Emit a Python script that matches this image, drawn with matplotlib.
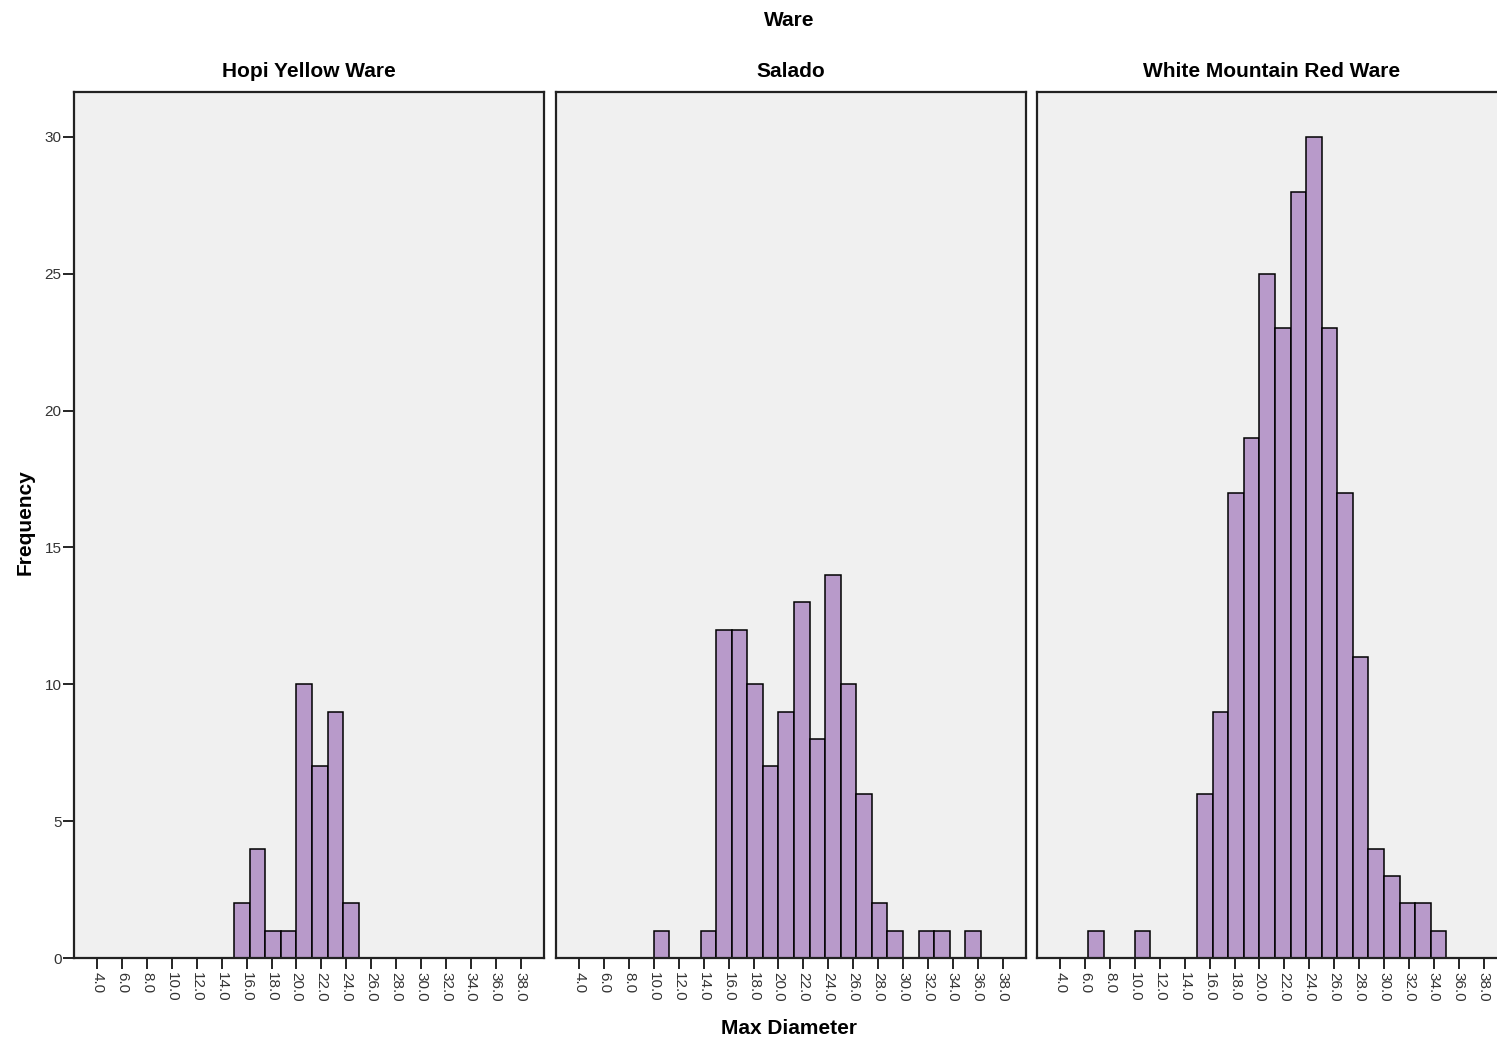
import matplotlib
matplotlib.use("Agg")
from matplotlib import pyplot as plt
import numpy as np

# histogram bins (SPSS style, width 1.25)
bin_left = [5.0, 6.25, 7.5, 8.75, 10.0, 11.25, 12.5, 13.75, 15.0, 16.25, 17.5, 18.75, 20.0,
            21.25, 22.5, 23.75, 25.0, 26.25, 27.5, 28.75, 30.0, 31.25, 32.5, 33.75, 35.0, 36.25]
bin_width = 1.25

wares = ['Hopi Yellow Ware', 'Salado', 'White Mountain Red Ware']
hopi_counts = [0, 0, 0, 0, 0, 0, 0, 0, 2, 4, 1, 1, 10, 7, 9, 2, 0, 0, 0, 0, 0, 0, 0, 0, 0, 0]
salado_counts = [0, 0, 0, 0, 1, 0, 0, 1, 12, 12, 10, 7, 9, 13, 8, 14, 10, 6, 2, 1, 0, 1, 1, 0, 1, 0]
wmrw_counts = [0, 1, 0, 0, 1, 0, 0, 0, 6, 9, 17, 19, 25, 23, 28, 30, 23, 17, 11, 4, 3, 2, 2, 1, 0, 0]

x_ticks = [4, 6, 8, 10, 12, 14, 16, 18, 20, 22, 24, 26, 28, 30, 32, 34, 36, 38]
y_ticks = [0, 5, 10, 15, 20, 25, 30]

plt.rcParams['font.family'] = ['Liberation Sans', 'DejaVu Sans']

W, H = 1497, 1044
fig = plt.figure(figsize=(W / 100, H / 100), dpi=100)

bar_color = '#b89aca'
bg = '#f0f0f0'

# panel positions in pixels (left edge), third panel runs off the right edge
lefts = [74, 556, 1037]
pw = 470
top, bottom = 92, 958

all_counts = [hopi_counts, salado_counts, wmrw_counts]
for k in range(3):
    ax = fig.add_axes([lefts[k] / W, (H - bottom) / H, pw / W, (bottom - top) / H])
    ax.set_facecolor(bg)
    counts = np.array(all_counts[k])
    lefts_b = np.array(bin_left)
    keep = counts > 0
    ax.bar(lefts_b[keep], counts[keep], width=bin_width, align='edge',
           color=bar_color, edgecolor='black', linewidth=1.1)
    ax.set_xlim(2.14, 39.87)
    ax.set_ylim(0, 31.64)
    ax.set_xticks(x_ticks)
    ax.set_xticklabels(['%.1f' % t for t in x_ticks], rotation=-90, fontsize=11, color='#333333')
    ax.tick_params(axis='x', direction='out', length=8, width=1.2, pad=2)
    if k == 0:
        ax.set_yticks(y_ticks)
        ax.set_yticklabels([str(t) for t in y_ticks], fontsize=11, color='#333333')
        ax.tick_params(axis='y', direction='out', length=8, width=1.2, pad=1)
    else:
        ax.set_yticks([])
    for s in ax.spines.values():
        s.set_linewidth(1.6)
        s.set_color('#222222')
    ax.set_title(wares[k], fontsize=15, fontweight='bold', pad=11)

fig.text(789 / W, 1 - 20 / H, 'Ware', ha='center', va='center', fontsize=15, fontweight='bold')
fig.text(789 / W, 1 - 1029 / H, 'Max Diameter', ha='center', va='center', fontsize=15, fontweight='bold')
fig.text(25 / W, 1 - 522 / H, 'Frequency', ha='center', va='center', rotation=90,
         fontsize=15, fontweight='bold')

fig.savefig('out.png', dpi=100, facecolor='white')
